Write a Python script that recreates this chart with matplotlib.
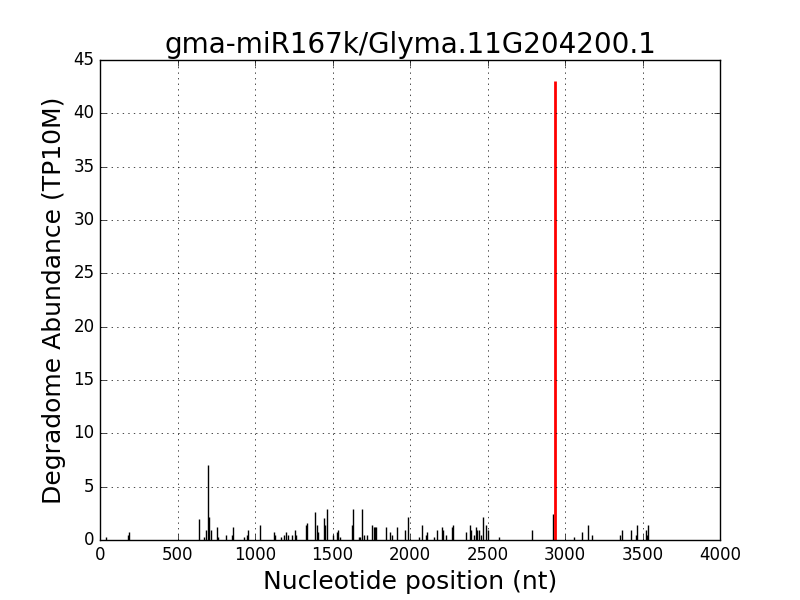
import matplotlib
matplotlib.use("Agg")
import matplotlib.pyplot as plt

# degradome reads: position (nt) and abundance (TP10M)
positions = [40, 183, 188, 639, 673, 684, 694, 703, 716, 755, 763, 815, 853, 860,
             931, 948, 957, 1034, 1123, 1131, 1168, 1189, 1200, 1210, 1240, 1258,
             1266, 1329, 1338, 1389, 1398, 1404, 1442, 1453, 1464, 1503, 1528, 1535,
             1550, 1626, 1634, 1671, 1679, 1692, 1701, 1722, 1757, 1766, 1774, 1782,
             1845, 1873, 1881, 1913, 1969, 1989, 2056, 2079, 2103, 2112, 2157, 2174,
             2206, 2212, 2234, 2271, 2280, 2359, 2385, 2394, 2410, 2426, 2432, 2443,
             2460, 2473, 2492, 2500, 2577, 2789, 2925, 3056, 3112, 3151, 3176, 3355,
             3368, 3426, 3458, 3466, 3525, 3530, 3537]
abundance = [0.3, 0.5, 0.72, 1.97, 0.3, 0.9, 7.0, 2.15, 0.9, 1.2, 0.3, 0.45, 0.45, 1.2,
             0.3, 0.45, 0.9, 1.37, 0.72, 0.45, 0.3, 0.45, 0.72, 0.45, 0.45, 0.9,
             0.45, 1.37, 1.63, 2.6, 1.37, 0.72, 2.1, 1.37, 2.9, 0.45, 0.72, 0.9,
             0.3, 1.37, 2.9, 0.25, 0.3, 2.9, 0.45, 0.45, 1.37, 1.2, 1.2, 1.2,
             1.2, 0.72, 0.45, 1.2, 0.9, 2.15, 0.3, 1.37, 0.45, 0.72, 0.3, 0.9,
             1.2, 0.9, 0.45, 1.2, 1.37, 0.72, 1.37, 0.9, 0.45, 1.2, 0.9, 0.9,
             0.45, 2.15, 1.37, 0.9, 0.3, 0.9, 2.4, 0.3, 0.72, 1.37, 0.45, 0.45,
             0.9, 0.9, 0.45, 1.37, 0.9, 0.45, 1.37]

# predicted cleavage site
site_pos = 2933
site_abundance = 43.0

title = "gma-miR167k/Glyma.11G204200.1"

plt.style.use("classic")
fig, ax = plt.subplots(figsize=(8, 6), dpi=100)
fig.patch.set_facecolor("white")

ax.vlines(positions, 0, abundance, colors="black", linewidth=1)
ax.vlines([site_pos], 0, [site_abundance], colors="red", linewidth=2)

ax.set_xlim(0, 4000)
ax.set_ylim(0, 45)
ax.grid(True)
ax.set_title(title, fontsize=20)
ax.set_xlabel("Nucleotide position (nt)", fontsize=18)
ax.set_ylabel("Degradome Abundance (TP10M)", fontsize=18)

fig.savefig("out.png", dpi=100, facecolor="white")
plt.close(fig)
